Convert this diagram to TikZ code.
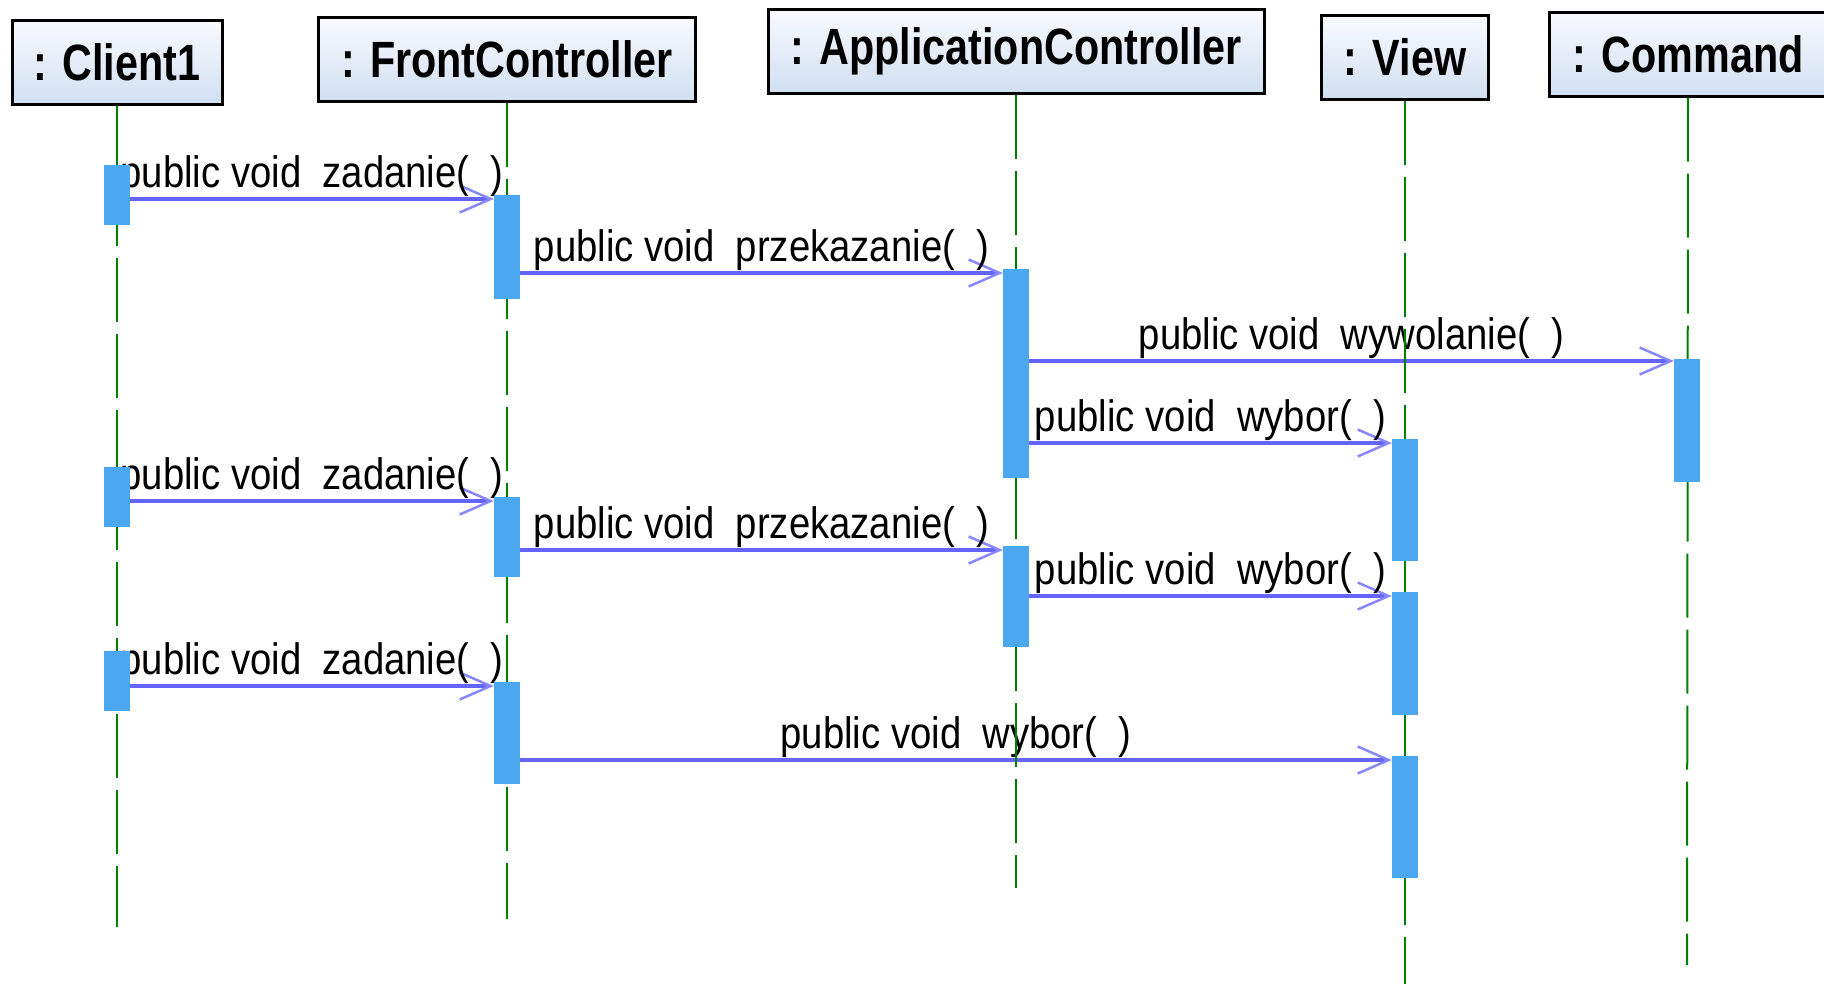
\documentclass[tikz,border=0pt]{standalone}
\usepackage{fontspec}
\setmainfont{Liberation Sans}
\newfontfamily\headfont[FakeStretch=0.81]{Liberation Sans}
\newfontfamily\msgfont[FakeStretch=0.87]{Liberation Sans}
\usetikzlibrary{positioning,calc,arrows.meta}
\definecolor{lifeGreen}{RGB}{0,128,0}
\definecolor{barBlue}{RGB}{75,168,240}
\definecolor{msgBlue}{RGB}{100,100,250}
\definecolor{tipBlue}{RGB}{135,135,255}
\definecolor{headTop}{RGB}{249,251,254}
\definecolor{headBot}{RGB}{208,223,241}
\pgfdeclarelayer{msgs}
\pgfsetlayers{msgs,main}

\begin{document}
\begin{tikzpicture}[x=1pt,y=-1pt,
  head/.style={draw=black,line width=3pt,top color=headTop,bottom color=headBot,
               minimum height=84pt,inner sep=0pt,
               font=\headfont\bfseries\fontsize{51}{56}\selectfont},
  life/.style={draw=lifeGreen,line width=2pt,dash pattern=on 64pt off 12pt},
  bar/.style={fill=barBlue,inner sep=0pt,minimum width=26pt,anchor=north},
  msg/.style={draw=msgBlue,line width=4pt,
              -{Straight Barb[length=31pt,width=27pt,line width=2.5pt,color=tipBlue]}},
  lbl/.style={font=\msgfont\fontsize{44}{48}\selectfont,inner sep=0pt,
              anchor=base,yshift=12pt}
]

\useasboundingbox (0,0) rectangle (1824,983);

% ---- columns ----
\def\xC{117}    % client
\def\xF{507}    % front controller
\def\xA{1016}   % application controller
\def\xV{1405}   % view
\def\xK{1687}   % command

% ---- lifeline heads ----
\node[head,minimum width=210pt] (client) at (\xC,62)  {: Client1};
\node[head,minimum width=377pt] (front)  at (\xF,59.5) {: FrontController};
\node[head,minimum width=496pt] (appctl) at (\xA,51)  {: ApplicationController};
\node[head,minimum width=167pt] (view)   at (\xV,57)  {: View};
\node[head,minimum width=278pt] (command) at (\xK+1,54) {: Command};

% ---- lifelines ----
\coordinate (clientEnd)  at (\xC,927);
\coordinate (frontEnd)   at (\xF,919);
\coordinate (appctlEnd)  at (\xA,888);
\coordinate (viewEnd)    at (\xV,985);
\coordinate (commandEnd) at (\xK,965);
\draw[life] (client.south)  -- (clientEnd);
\draw[life] (front.south)   -- (frontEnd);
\draw[life] (appctl.south)  -- (appctlEnd);
\draw[life] (view.south)    -- (viewEnd);
\draw[life] (command.south) -- (commandEnd);

% ---- activation bars ----
\node[bar,minimum height=60pt]  (cb1) at (\xC,165) {};
\node[bar,minimum height=60pt]  (cb2) at (\xC,467) {};
\node[bar,minimum height=60pt]  (cb3) at (\xC,651) {};

\node[bar,minimum height=104pt] (fb1) at (\xF,195) {};
\node[bar,minimum height=80pt]  (fb2) at (\xF,497) {};
\node[bar,minimum height=102pt] (fb3) at (\xF,682) {};

\node[bar,minimum height=209pt] (ab1) at (\xA,269) {};
\node[bar,minimum height=101pt] (ab2) at (\xA,546) {};

\node[bar,minimum height=122pt] (vb1) at (\xV,439) {};
\node[bar,minimum height=123pt] (vb2) at (\xV,592) {};
\node[bar,minimum height=122pt] (vb3) at (\xV,756) {};

\node[bar,minimum height=123pt] (kb1) at (\xK,359) {};

% ---- messages (under lifelines and bars) ----
\begin{pgfonlayer}{msgs}
  \coordinate (m1) at ($(fb1.north west)+(0,4)$);
  \coordinate (m2) at ($(ab1.north west)+(0,4)$);
  \coordinate (m3) at ($(kb1.north west)+(0,2)$);
  \coordinate (m4) at ($(vb1.north west)+(0,4)$);
  \coordinate (m5) at ($(fb2.north west)+(0,4)$);
  \coordinate (m6) at ($(ab2.north west)+(0,4)$);
  \coordinate (m7) at ($(vb2.north west)+(0,4)$);
  \coordinate (m8) at ($(fb3.north west)+(0,4)$);
  \coordinate (m9) at ($(vb3.north west)+(0,4)$);

  \draw[msg] (cb1.east |- m1) -- (m1) node[lbl,midway] (t1) {public void\ \ zadanie(\ \ )};
  \draw[msg] (fb1.east |- m2) -- (m2) node[lbl,midway] (t2) {public void\ \ przekazanie(\ \ )};
  \draw[msg] (ab1.east |- m3) -- (m3) node[lbl,midway] (t3) {public void\ \ wywolanie(\ \ )};
  \draw[msg] (ab1.east |- m4) -- (m4) node[lbl,midway] (t4) {public void\ \ wybor(\ \ )};

  \draw[msg] (cb2.east |- m5) -- (m5) node[lbl,midway] (t5) {public void\ \ zadanie(\ \ )};
  \draw[msg] (fb2.east |- m6) -- (m6) node[lbl,midway] (t6) {public void\ \ przekazanie(\ \ )};
  \draw[msg] (ab2.east |- m7) -- (m7) node[lbl,midway] (t7) {public void\ \ wybor(\ \ )};

  \draw[msg] (cb3.east |- m8) -- (m8) node[lbl,midway] (t8) {public void\ \ zadanie(\ \ )};
  \draw[msg] (fb3.east |- m9) -- (m9) node[lbl,midway] (t9) {public void\ \ wybor(\ \ )};
\end{pgfonlayer}

\end{tikzpicture}
\end{document}
